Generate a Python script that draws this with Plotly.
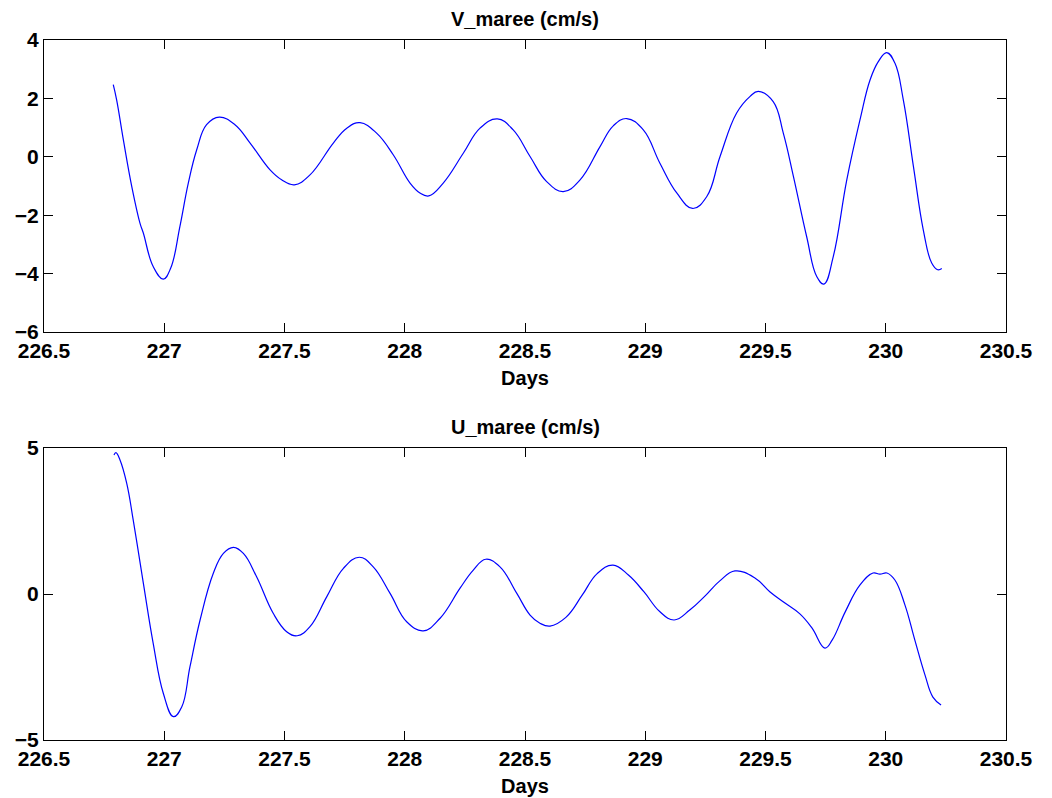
import plotly.graph_objects as go

# ---- Data ----
v_days = [226.788, 226.802, 226.830, 226.865, 226.899, 226.913, 226.954, 226.996, 227.027,
          227.065, 227.100, 227.135, 227.176, 227.229, 227.294, 227.357, 227.440, 227.488,
          227.541, 227.606, 227.703, 227.759, 227.814, 227.883, 227.952, 228.022, 228.063,
          228.100, 228.160, 228.244, 228.313, 228.385, 228.451, 228.521, 228.590, 228.659,
          228.729, 228.812, 228.867, 228.923, 228.992, 229.061, 229.131, 229.197, 229.256,
          229.311, 229.380, 229.436, 229.470, 229.532, 229.574, 229.616, 229.671, 229.713,
          229.743, 229.782, 229.838, 229.893, 229.935, 229.969, 230.004, 230.038, 230.073,
          230.115, 230.156, 230.191, 230.216, 230.233]
v_maree = [2.47, 1.95, 0.58, -1.02, -2.27, -2.61, -3.76, -4.19, -3.81,
           -2.39, -0.90, 0.24, 1.10, 1.36, 1.10, 0.47, -0.45, -0.79,
           -0.96, -0.62, 0.47, 0.98, 1.17, 0.81, 0.07, -0.90, -1.24,
           -1.34, -0.90, 0.13, 0.98, 1.30, 0.92, 0.01, -0.85, -1.19,
           -0.79, 0.35, 1.06, 1.31, 0.92, -0.22, -1.24, -1.77, -1.36,
           0.01, 1.50, 2.07, 2.24, 1.89, 0.81, -0.67, -2.73, -4.10,
           -4.36, -3.41, -0.79, 1.27, 2.64, 3.26, 3.57, 3.21, 1.95,
           -0.33, -2.50, -3.64, -3.87, -3.83]

u_days = [226.791, 226.799, 226.816, 226.844, 226.871, 226.913, 226.954, 226.996, 227.038,
          227.073, 227.107, 227.149, 227.204, 227.246, 227.287, 227.329, 227.384, 227.453,
          227.509, 227.553, 227.606, 227.676, 227.745, 227.811, 227.869, 227.939, 228.008,
          228.077, 228.147, 228.230, 228.285, 228.337, 228.396, 228.466, 228.521, 228.562,
          228.604, 228.670, 228.737, 228.800, 228.866, 228.930, 228.995, 229.060, 229.120,
          229.185, 229.248, 229.310, 229.373, 229.456, 229.519, 229.581, 229.643, 229.693,
          229.747, 229.777, 229.831, 229.893, 229.947, 229.976, 230.005, 230.038, 230.080,
          230.121, 230.163, 230.196, 230.230]
u_maree = [4.76, 4.84, 4.59, 3.79, 2.53, 0.37, -1.69, -3.40, -4.20,
           -3.86, -2.49, -0.89, 0.71, 1.39, 1.60, 1.39, 0.59, -0.66,
           -1.29, -1.43, -1.12, -0.09, 0.88, 1.26, 0.93, 0.02, -0.95,
           -1.26, -0.83, 0.20, 0.82, 1.19, 0.93, 0.02, -0.72, -1.00,
           -1.10, -0.80, -0.05, 0.70, 0.99, 0.65, 0.07, -0.60, -0.89,
           -0.55, -0.07, 0.45, 0.79, 0.55, 0.07, -0.31, -0.68, -1.16,
           -1.85, -1.58, -0.62, 0.31, 0.72, 0.68, 0.72, 0.48, -0.38,
           -1.58, -2.77, -3.53, -3.80]

x_range = [226.5, 230.5]
x_ticks = [226.5, 227, 227.5, 228, 228.5, 229, 229.5, 230, 230.5]
v_ticks = [-6, -4, -2, 0, 2, 4]
u_ticks = [-5, 0, 5]
titles = ["V_maree (cm/s)", "U_maree (cm/s)"]
xlabel = "Days"

FONT = "Liberation Sans"
fs_tick = 21
fs_title = 20

line_style = dict(color="#0000ff", width=1.2, shape="spline", smoothing=1.2)

fig = go.Figure()
fig.add_trace(go.Scatter(x=v_days, y=v_maree, mode="lines", xaxis="x", yaxis="y",
                         line=line_style, showlegend=False))
fig.add_trace(go.Scatter(x=u_days, y=u_maree, mode="lines", xaxis="x2", yaxis="y2",
                         line=line_style, showlegend=False))

axis_common = dict(showgrid=False, zeroline=False, showline=True, linecolor="black",
                   linewidth=1.3, mirror="ticks", ticks="inside", ticklen=9,
                   tickcolor="black", tickwidth=1, automargin=False,
                   tickfont=dict(family=FONT, size=fs_tick, color="black", weight="bold"))

title_font = dict(family=FONT, size=fs_title, weight="bold", color="black")

fig.update_layout(
    template="none",
    width=1052, height=798,
    paper_bgcolor="white", plot_bgcolor="white",
    margin=dict(l=44, r=46, t=40, b=58, pad=0),
    font=dict(family=FONT, color="black"),
    xaxis=dict(domain=[0, 1], range=x_range, tickvals=x_ticks, anchor="y",
               title=dict(text=xlabel, font=title_font, standoff=9),
               **axis_common),
    yaxis=dict(domain=[0.5829, 1], range=[v_ticks[0], v_ticks[-1]], tickvals=v_ticks,
               anchor="x", **axis_common),
    xaxis2=dict(domain=[0, 1], range=x_range, tickvals=x_ticks, anchor="y2",
                title=dict(text=xlabel, font=title_font, standoff=9),
                **axis_common),
    yaxis2=dict(domain=[0, 0.4171], range=[u_ticks[0], u_ticks[-1]], tickvals=u_ticks,
                anchor="x2", **axis_common),
    annotations=[
        dict(text=titles[0], x=0.5, y=1, xref="paper", yref="paper", xanchor="center",
             yanchor="bottom", yshift=8, showarrow=False, font=title_font),
        dict(text=titles[1], x=0.5, y=0.4171, xref="paper", yref="paper", xanchor="center",
             yanchor="bottom", yshift=8, showarrow=False, font=title_font),
    ],
)

# remove the browser's default 8px body margin so the figure fills the window exactly
fig.write_html("out.html",
               config={"displayModeBar": False},
               post_script="document.body.style.margin='0';document.body.style.overflow='hidden';")
